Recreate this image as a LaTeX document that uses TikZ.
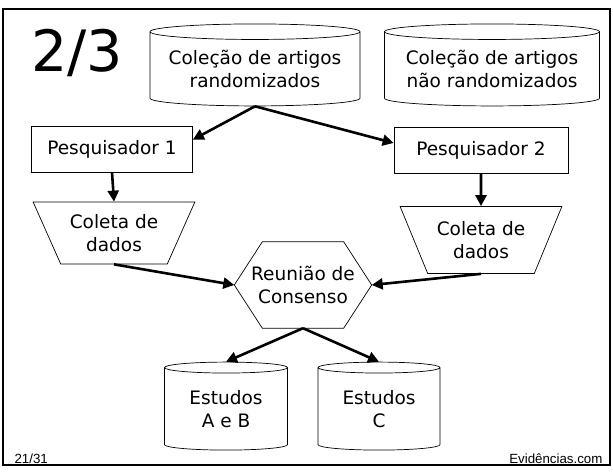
\documentclass[tikz,border=0pt]{standalone}
\usepackage{fontspec}
\setmainfont{DejaVu Sans}
\newfontfamily\rodape{Liberation Sans}
\usetikzlibrary{shapes.geometric,arrows.meta,calc}
\tikzset{
  texto/.style={align=center,font=\fontsize{18.5}{23}\selectfont},
  base/.style={texto,draw,cylinder,shape border rotate=90,inner sep=0pt,line width=0.7pt},
  caixa/.style={texto,draw,rectangle,minimum height=46pt,inner sep=0pt,line width=0.7pt},
  coleta/.style={texto,draw,trapezium,shape border rotate=180,trapezium stretches=true,
    trapezium left angle=58.5,trapezium right angle=58.5,minimum width=162pt,inner sep=0pt,line width=0.7pt},
  reuniao/.style={texto,rectangle,minimum width=137pt,minimum height=86pt,inner sep=0pt},
  seta/.style={-{Triangle[length=11pt,width=11pt]},line width=2.6pt}
}
\begin{document}
\begin{tikzpicture}[x=1pt,y=-1pt]
\useasboundingbox (0,0) rectangle (613,473);
\draw[line width=2.5pt] (3,9) rectangle (610,465);
\node (titulo) at (77,53) {\fontsize{57}{57}\selectfont 2/3};
% bases de artigos
\node[base,minimum width=210pt,minimum height=82pt,aspect=0.09] (rand) at (255,69) {Coleção de artigos\\randomizados};
\node[base,minimum width=215pt,minimum height=82pt,aspect=0.09] (naorand) at (492,69) {Coleção de artigos\\não randomizados};
% pesquisadores
\node[caixa,minimum width=161pt] (p1) at (112,149) {Pesquisador 1};
\node[caixa,minimum width=174pt] (p2) at (481,150) {Pesquisador 2};
\node[coleta,minimum height=62pt] (c1) at (114,233) {Coleta de\\dados};
\node[coleta,minimum height=67pt] (c2) at (481,240) {Coleta de\\dados};
% reuniao (hexagono)
\node[reuniao] (cons) at (303,285) {Reunião de\\Consenso};
\draw[line width=0.7pt] (cons.west) -- ([xshift=28pt]cons.north west) -- ([xshift=-28pt]cons.north east)
  -- (cons.east) -- ([xshift=-28pt]cons.south east) -- ([xshift=28pt]cons.south west) -- cycle;
% estudos
\node[base,minimum width=123pt,minimum height=88pt,aspect=0.15] (eab) at (226,409) {Estudos\\A e B};
\node[base,minimum width=122pt,minimum height=88pt,aspect=0.15] (ec) at (379,409) {Estudos\\C};
\node[anchor=base west,font=\rodape\fontsize{13.3}{13.3}\selectfont] (pag) at (11,463) {21/31};
\node[anchor=base east,font=\rodape\fontsize{13.3}{13.3}\selectfont] (site) at (606,463) {Evidências.com};
% setas
\draw[seta] (rand.south) -- ($(p1.north east)!0.3!(p1.south east)$);
\draw[seta] (rand.south) -- ($(p2.north west)!0.35!(p2.south west)$);
\draw[seta] (p1.south) -- (c1.north);
\draw[seta] (p2.south) -- (c2.north);
\draw[seta] (c1.south) -- (cons.west);
\draw[seta] (c2.south) -- (cons.east);
\draw[seta] (cons.south) -- (eab.north);
\draw[seta] (cons.south) -- (ec.north);
\end{tikzpicture}
\end{document}
